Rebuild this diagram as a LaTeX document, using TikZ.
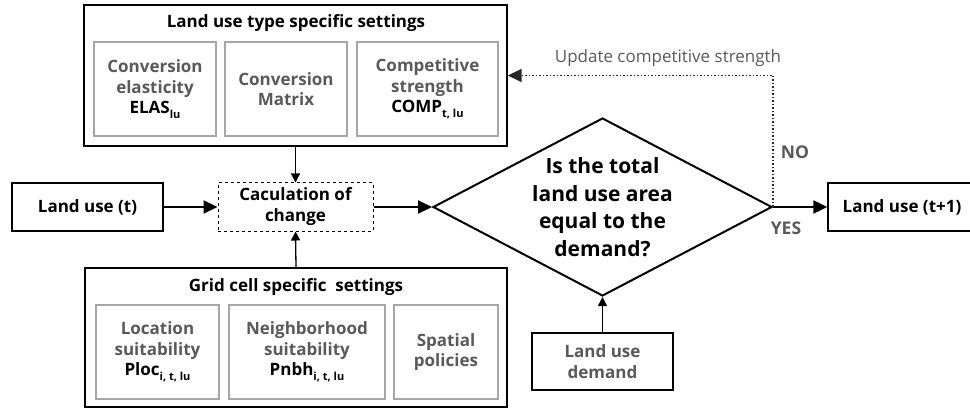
\documentclass[tikz,border=0pt]{standalone}
\usepackage{fontspec}
\setmainfont{Open Sans}
\usetikzlibrary{shapes.geometric,arrows.meta}
\definecolor{gtext}{HTML}{595959}
\definecolor{gbox}{HTML}{A6A6A6}
\newcommand{\mysub}[1]{\raisebox{-0.5ex}{\fontsize{11}{11}\selectfont #1}}
\begin{document}
\begin{tikzpicture}[x=1pt,y=-1pt,
  outerbox/.style={draw, line width=1.4pt, inner sep=0pt, rectangle},
  innerbox/.style={draw=gbox, line width=1.3pt, inner sep=0pt, align=center, text=gtext, minimum height=94pt, font=\bfseries\fontsize{17}{20.5}\selectfont},
  mainbox/.style={draw, line width=1.4pt, inner sep=0pt, align=center, font=\bfseries\fontsize{17}{21}\selectfont},
  titletext/.style={font=\bfseries\fontsize{17}{20}\selectfont, inner sep=0pt},
  glabel/.style={font=\bfseries\fontsize{17.5}{20}\selectfont, text=gtext, inner sep=0pt},
  thickarrow/.style={line width=2.2pt, -{Triangle[length=14pt,width=13pt]}},
  thinarrow/.style={line width=1.3pt, -{Triangle[length=9pt,width=9pt]}},
  dotarrow/.style={line width=1.5pt, dotted, black!85, -{Triangle[length=14pt,width=13pt]}}
]
\useasboundingbox (0,0) rectangle (970,409);

% top group
\node[outerbox, minimum width=423pt, minimum height=141pt] (top) at (295.5,75.5) {};
\node[titletext] (toptitle) at (296,23) {Land use type specific settings};
\node[innerbox, minimum width=122pt] (ce) at (155,89) {Conversion\\elasticity\\\textcolor{black}{ELAS\mysub{lu}}};
\node[innerbox, minimum width=122pt] (cm) at (286,89) {Conversion\\Matrix};
\node[innerbox, minimum width=141pt] (cs) at (427.5,89) {Competitive\\strength\\\textcolor{black}{COMP\mysub{t, lu}}};

% bottom group
\node[outerbox, minimum width=422pt, minimum height=139pt] (bot) at (296,337.5) {};
\node[titletext] (bottitle) at (296,287) {Grid cell specific\ \ settings};
\node[innerbox, minimum width=123pt] (ls) at (157.5,352) {Location\\suitability\\\textcolor{black}{Ploc\mysub{i, t, lu}}};
\node[innerbox, minimum width=156pt] (ns) at (307,352) {Neighborhood\\suitability\\\textcolor{black}{Pnbh\mysub{i, t, lu}}};
\node[innerbox, minimum width=104pt] (sp) at (446,352) {Spatial\\policies};

% main flow
\node[mainbox, minimum width=151pt, minimum height=48pt] (landt) at (87.5,207) {Land use (t)};
\node[mainbox, dashed, line width=1pt, minimum width=155pt, minimum height=48pt] (calc) at (295.5,207) {Caculation of\\change};
\node[diamond, draw, line width=2pt, inner sep=0pt, aspect=1.9, minimum width=339pt, minimum height=178pt] (dec) at (602.5,207) {};
\node[align=center, inner sep=0pt, font=\bfseries\fontsize{21}{27.5}\selectfont] (dectext) at (dec.center) {Is the total\\land use area\\equal to the\\demand?};
\node[mainbox, text=gtext, minimum width=141pt, minimum height=57pt] (demand) at (602.5,361.5) {Land use\\demand};
\node[mainbox, minimum width=148pt, minimum height=48pt] (landt1) at (902,207) {Land use (t+1)};

% connectors
\draw[thickarrow] (landt.east) -- (calc.west);
\draw[thinarrow] (top.south) -- (calc.north);
\draw[thinarrow] (bot.north) -- (calc.south);
\draw[thickarrow] (calc.east) -- (dec.west);
\draw[thinarrow] (demand.north) -- (dec.south);
\draw[thickarrow] (dec.east) -- (landt1.west);
\draw[dotarrow] (dec.east) |- (top.east);

% labels
\node[font=\fontsize{17}{20}\selectfont, text=gtext, inner sep=0pt] (upd) at (668,58) {Update competitive strength};
\node[glabel] (no) at (795,152) {NO};
\node[glabel] (yes) at (786,228) {YES};
\end{tikzpicture}
\end{document}
